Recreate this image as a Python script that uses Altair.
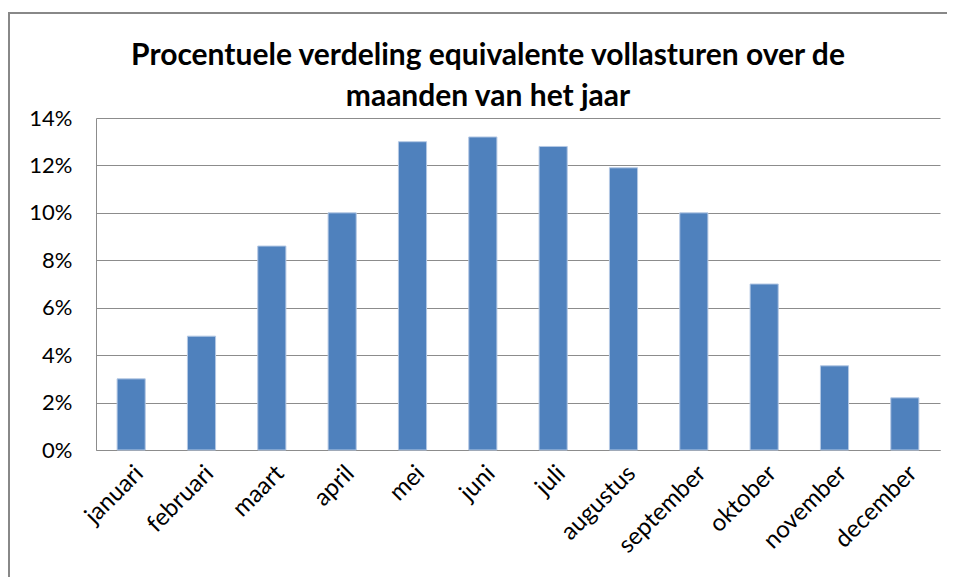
import altair as alt
import pandas as pd

months = ["januari", "februari", "maart", "april", "mei", "juni", "juli",
          "augustus", "september", "oktober", "november", "december"]
shares = [0.030, 0.048, 0.086, 0.100, 0.130, 0.132, 0.128, 0.119, 0.100, 0.070, 0.0355, 0.022]
y_ticks = [0, 0.02, 0.04, 0.06, 0.08, 0.10, 0.12, 0.14]
title_lines = ["Procentuele verdeling equivalente vollasturen over de", "maanden van het jaar"]

df = pd.DataFrame({"maand": months, "aandeel": shares})

FONT = "Lato"
GRID = "#8c8c8c"

bars = alt.Chart(df).mark_bar(color="#4F81BD", stroke="#B4C8E4", strokeWidth=1).encode(
    x=alt.X("maand:N", sort=months,
            scale=alt.Scale(paddingInner=0.6, paddingOuter=0.3),
            axis=alt.Axis(title=None, labelAngle=-45, labelFontSize=24, labelFont=FONT,
                          labelColor="#000000", ticks=False, domainColor=GRID,
                          labelPadding=11, grid=False)),
    y=alt.Y("aandeel:Q", scale=alt.Scale(domain=[0, 0.14], nice=False),
            axis=alt.Axis(title=None, format=".0%", values=y_ticks, labelFontSize=22,
                          labelFont=FONT, labelColor="#000000", ticks=False,
                          domainColor=GRID, gridColor=GRID, labelPadding=24)),
)

frame = alt.Chart(pd.DataFrame({"k": [0]})).mark_rect(
    fill=None, stroke="#888888", strokeWidth=2
).encode(
    x=alt.value(-87), x2=alt.value(866), y=alt.value(-105), y2=alt.value(620)
)


def title_line(i, y_px):
    return alt.Chart(pd.DataFrame({"line": [title_lines[i]]})).mark_text(
        font=FONT, fontSize=30, fontWeight="bold", color="#000000",
        align="center", baseline="alphabetic"
    ).encode(text="line:N", x=alt.value(392), y=alt.value(y_px))


chart = alt.layer(frame, bars, title_line(0, -53), title_line(1, -12)).properties(
    width=844, height=332,
    autosize=alt.AutoSizeParams(type="none"),
    padding={"left": 88, "top": 110, "right": 7, "bottom": 127},
).configure_view(stroke=None)

chart.save("out.html", embed_options={"renderer": "svg", "actions": False})
